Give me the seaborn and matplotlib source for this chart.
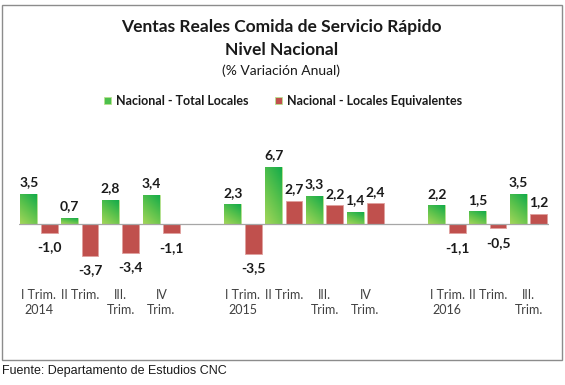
import numpy as np
import pandas as pd
import matplotlib
import matplotlib.pyplot as plt
from matplotlib.colors import LinearSegmentedColormap
from matplotlib.patches import Rectangle
import seaborn as sns

matplotlib.use('Agg')

# Data (leer del grafico)
periodos = ["I Trim.\n2014", "II Trim.", "III.\nTrim.", "IV\nTrim.", " ",
            "I Trim.\n2015", "II Trim. ", "III.\nTrim. ", "IV\nTrim. ", "  ",
            "I Trim.\n2016", "II Trim.  ", "III.\nTrim.  "]
total_locales = [3.5, 0.7, 2.8, 3.4, None, 2.3, 6.7, 3.3, 1.4, None, 2.2, 1.5, 3.5]
locales_equiv = [-1.0, -3.7, -3.4, -1.1, None, -3.5, 2.7, 2.2, 2.4, None, -1.1, -0.5, 1.2]
series = ["Nacional - Total Locales", "Nacional - Locales Equivalentes"]
colores = ["#4DC04C", "#C0504D"]

rows = []
for p, a, b in zip(periodos, total_locales, locales_equiv):
    if a is not None:
        rows.append({'periodo': p, 'serie': series[0], 'valor': a})
    if b is not None:
        rows.append({'periodo': p, 'serie': series[1], 'valor': b})
df = pd.DataFrame(rows)

sns.set_style('white')
plt.rcParams['font.family'] = ['Lato', 'DejaVu Sans']

fig = plt.figure(figsize=(5.65, 3.85), dpi=100)
ax = fig.add_axes([0.0329, 0.2627, 0.9388, 0.3331])

sns.barplot(data=df, x='periodo', y='valor', hue='serie', order=periodos,
            hue_order=series, palette=colores, saturation=1, width=1.0, gap=0.17,
            linewidth=0.6, edgecolor='#B9E28F', errorbar=None, ax=ax)

# gradiente verde
cmap = LinearSegmentedColormap.from_list('verde', ['#A4D65A', '#5CC24C', '#12AB4A'])
uu, vv = np.meshgrid(np.linspace(0, 1, 40), np.linspace(0, 1, 80))
grad = 0.35 * uu + 0.65 * vv
for bar in ax.containers[0]:
    x0, y0 = bar.get_x(), bar.get_y()
    w, h = bar.get_width(), bar.get_height()
    if not np.isfinite(h):
        continue
    im = ax.imshow(grad, extent=[x0, x0 + w, y0, y0 + h], origin='lower',
                   cmap=cmap, aspect='auto', zorder=bar.get_zorder() + 0.1)
    im.set_clip_path(bar)
for bar in ax.containers[1]:
    bar.set_edgecolor('#E0A09E')

# etiquetas de datos
for cont in ax.containers:
    for bar in cont:
        h = bar.get_height()
        if not np.isfinite(h):
            continue
        txt = f"{h:.1f}".replace('.', ',')
        xc = bar.get_x() + bar.get_width() / 2
        if h >= 0:
            ax.annotate(txt, (xc, h), xytext=(0, 4), textcoords='offset points',
                        ha='center', va='bottom', fontsize=10, fontweight='bold', color='#1a1a1a')
        else:
            ax.annotate(txt, (xc, h), xytext=(0, -6), textcoords='offset points',
                        ha='center', va='top', fontsize=10, fontweight='bold', color='#1a1a1a')

ax.axhline(0, color='#A6A6A6', lw=0.9, zorder=5)
ax.set_xlim(-0.5, len(periodos) - 0.5)
ax.set_ylim(-7, 8)
ax.set_yticks([])
ax.set_xlabel('')
ax.set_ylabel('')
ax.set_xticks(range(len(periodos)))
ax.set_xticklabels([p.strip() for p in periodos], fontsize=9, color='#404040', linespacing=1.3)
ax.tick_params(axis='x', length=0, pad=4)
for s in ax.spines.values():
    s.set_visible(False)
ax.patch.set_alpha(0)

sns.move_legend(ax, 'center', bbox_to_anchor=(0.501, 0.738), bbox_transform=fig.transFigure,
                ncol=2, frameon=False, title=None, fontsize=9,
                handlelength=0.55, handleheight=0.55, handletextpad=0.4, columnspacing=2.1)
for t in ax.get_legend().get_texts():
    t.set_fontweight('bold')
    t.set_color('#1a1a1a')

fig.text(0.498, 0.930, "Ventas Reales Comida de Servicio Rápido", ha='center', va='center',
         fontsize=12.5, fontweight='bold', color='#1a1a1a')
fig.text(0.498, 0.870, "Nivel Nacional", ha='center', va='center',
         fontsize=12.5, fontweight='bold', color='#1a1a1a')
fig.text(0.498, 0.816, "(% Variación Anual)", ha='center', va='center',
         fontsize=10, color='#1a1a1a')

fig.add_artist(Rectangle((2 / 565, 25 / 385), 560 / 565, 355.5 / 385, transform=fig.transFigure,
                         fill=False, edgecolor='#8C8C8C', lw=1.0))
fig.text(2 / 565, 0.036, "Fuente: Departamento de Estudios CNC", ha='left', va='center',
         fontsize=9, family=['Liberation Sans', 'DejaVu Sans'], color='#1a1a1a')

fig.savefig('out.png', dpi=100)
